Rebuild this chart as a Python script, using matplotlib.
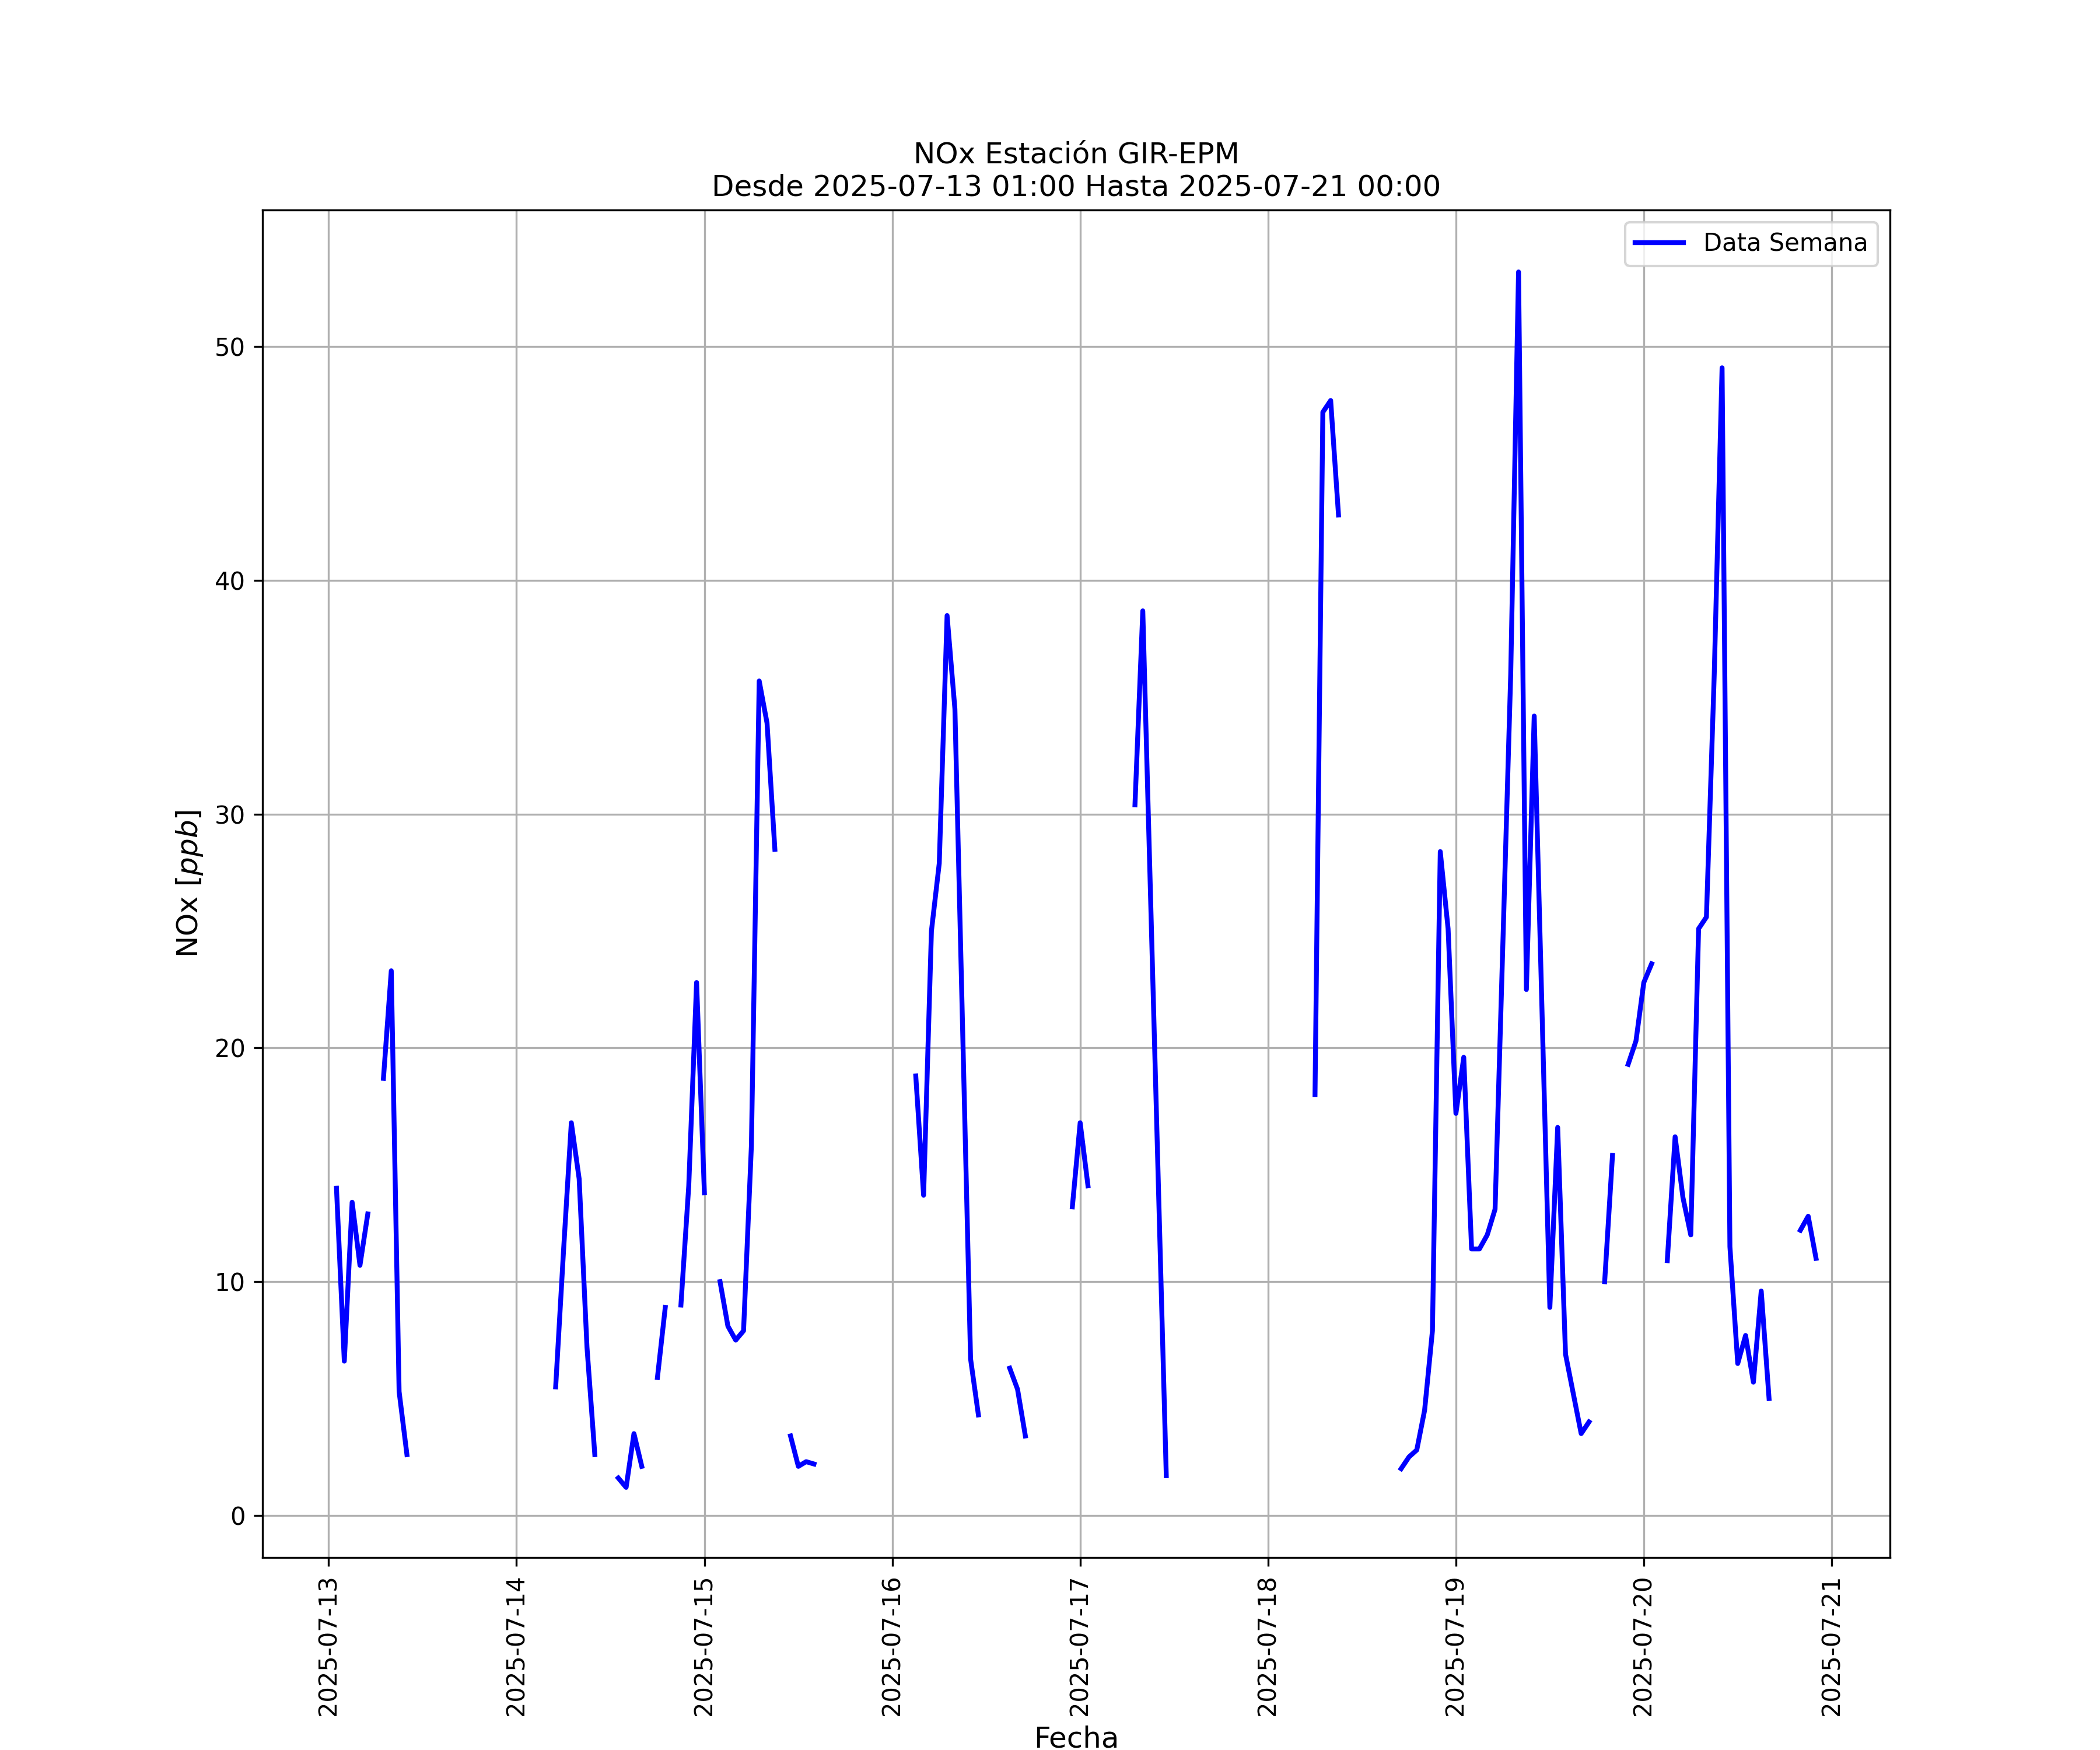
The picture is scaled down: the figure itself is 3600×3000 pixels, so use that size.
import matplotlib
matplotlib.use("Agg")
import matplotlib.pyplot as plt
import matplotlib.dates as mdates
import numpy as np
import pandas as pd

nan = np.nan
inicio = "2025-07-13 01:00"
fin = "2025-07-21 00:00"

# NOx horario [ppb] (nan = sin dato)
dia13 = [14.0, 6.6, 13.4, 10.7, 12.9, nan, 18.7, 23.3, 5.3, 2.6,
         nan, nan, nan, nan, nan, nan, nan, nan, nan, nan, nan, nan, nan]  # 01:00 - 23:00
dia14 = [nan, nan, nan, nan, nan, 5.5, 11.3, 16.8, 14.4, 7.2, 2.6, nan,
         nan, 1.6, 1.2, 3.5, 2.1, nan, 5.9, 8.9, nan, 9.0, 14.1, 22.8]
dia15 = [13.8, nan, 10.0, 8.1, 7.5, 7.9, 15.8, 35.7, 33.9, 28.5, nan, 3.4,
         2.1, 2.3, 2.2, nan, nan, nan, nan, nan, nan, nan, nan, nan]
dia16 = [nan, nan, nan, 18.8, 13.7, 25.0, 27.9, 38.5, 34.5, 20.6, 6.7, 4.3,
         nan, nan, nan, 6.3, 5.4, 3.4, nan, nan, nan, nan, nan, 13.2]
dia17 = [16.8, 14.1, nan, nan, nan, nan, nan, 30.4, 38.7, 26.4, 14.0, 1.7,
         nan, nan, nan, nan, nan, nan, nan, nan, nan, nan, nan, nan]
dia18 = [nan, nan, nan, nan, nan, nan, 18.0, 47.2, 47.7, 42.8, nan, nan,
         nan, nan, nan, nan, nan, 2.0, 2.5, 2.8, 4.5, 7.9, 28.4, 25.1]
dia19 = [17.2, 19.6, 11.4, 11.4, 12.0, 13.1, 24.5, 36.0, 53.2, 22.5, 34.2, 21.5,
         8.9, 16.6, 6.9, 5.2, 3.5, 4.0, nan, 10.0, 15.4, nan, 19.3, 20.3]
dia20 = [22.8, 23.6, nan, 10.9, 16.2, 13.6, 12.0, 25.1, 25.6, 36.0, 49.1, 11.5,
         6.5, 7.7, 5.7, 9.6, 5.0, nan, nan, nan, 12.2, 12.8, 11.0, nan]
dia21 = [nan]  # 00:00

nox = dia13 + dia14 + dia15 + dia16 + dia17 + dia18 + dia19 + dia20 + dia21
fechas = pd.date_range(inicio, fin, freq="h")

fig = plt.figure(figsize=(12, 10))
plt.plot(fechas, nox, color="blue", linewidth=2, label="Data Semana")
plt.title("NOx Estación GIR-EPM\nDesde " + inicio + " Hasta " + fin, fontsize=12)
plt.xlabel("Fecha", fontsize=12) ; plt.ylabel("NOx [$ppb$]", fontsize=12)
ax = plt.gca()
ax.xaxis.set_major_locator(mdates.DayLocator())
ax.xaxis.set_major_formatter(mdates.DateFormatter("%Y-%m-%d"))
ax.tick_params(axis="x", labelrotation=90)
plt.ylim(-1.8, 55.85)
plt.grid() ; plt.legend(loc="upper right")
plt.savefig("out.png", dpi=300)
